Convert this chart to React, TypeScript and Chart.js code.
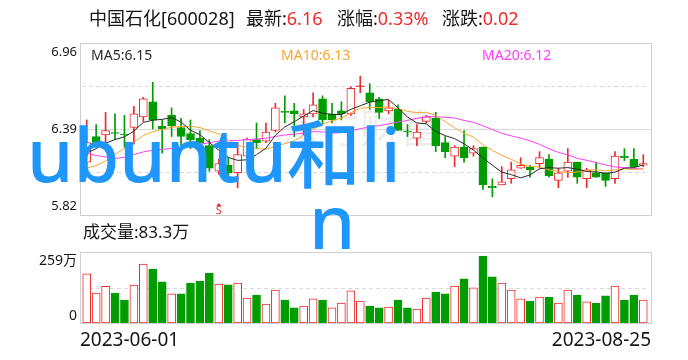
import { useEffect, useRef } from "react";
import { Chart, registerables } from "chart.js";

Chart.register(...registerables);

// ---- data -----------------------------------------------------------------

const stockName = "中国石化";
const stockCode = "600028";

const tradeDates = [
  "2023-06-01", "2023-06-02", "2023-06-05", "2023-06-06", "2023-06-07",
  "2023-06-08", "2023-06-09", "2023-06-12", "2023-06-13", "2023-06-14",
  "2023-06-15", "2023-06-16", "2023-06-19", "2023-06-20", "2023-06-21",
  "2023-06-26", "2023-06-27", "2023-06-28", "2023-06-29", "2023-06-30",
  "2023-07-03", "2023-07-04", "2023-07-05", "2023-07-06", "2023-07-07",
  "2023-07-10", "2023-07-11", "2023-07-12", "2023-07-13", "2023-07-14",
  "2023-07-17", "2023-07-18", "2023-07-19", "2023-07-20", "2023-07-21",
  "2023-07-24", "2023-07-25", "2023-07-26", "2023-07-27", "2023-07-28",
  "2023-07-31", "2023-08-01", "2023-08-02", "2023-08-03", "2023-08-04",
  "2023-08-07", "2023-08-08", "2023-08-09", "2023-08-10", "2023-08-11",
  "2023-08-14", "2023-08-15", "2023-08-16", "2023-08-17", "2023-08-18",
  "2023-08-21", "2023-08-22", "2023-08-23", "2023-08-24", "2023-08-25",
];

// closes of the 19 sessions before 2023-06-01, seeding the moving averages
const mayCloses = [
  6.60, 6.58, 6.55, 6.20, 6.12, 6.25, 6.24, 6.28, 6.25, 6.22,
  6.12, 6.08, 5.92, 5.96, 6.07, 6.15, 6.20, 6.24, 6.26,
];

const opens = [
  6.17, 6.34, 6.35, 6.36, 6.35, 6.40, 6.47, 6.57, 6.41, 6.48,
  6.40, 6.36, 6.33, 6.28, 6.11, 6.15, 6.10, 6.21, 6.32, 6.31,
  6.38, 6.50, 6.51, 6.47, 6.49, 6.59, 6.49, 6.51, 6.49, 6.67,
  6.63, 6.59, 6.51, 6.52, 6.37, 6.33, 6.44, 6.46, 6.30, 6.21,
  6.27, 6.23, 6.27, 6.01, 6.02, 6.06, 6.13, 6.14, 6.16, 6.19,
  6.05, 6.11, 6.17, 6.06, 6.10, 6.10, 6.06, 6.21, 6.19, 6.15,
];
const highs = [
  6.45, 6.42, 6.50, 6.49, 6.48, 6.54, 6.60, 6.70, 6.45, 6.53,
  6.46, 6.45, 6.38, 6.32, 6.19, 6.20, 6.30, 6.33, 6.43, 6.43,
  6.56, 6.61, 6.56, 6.52, 6.63, 6.61, 6.56, 6.57, 6.67, 6.74,
  6.69, 6.60, 6.58, 6.55, 6.42, 6.42, 6.48, 6.50, 6.34, 6.28,
  6.38, 6.28, 6.27, 6.06, 6.14, 6.17, 6.20, 6.15, 6.24, 6.22,
  6.13, 6.26, 6.17, 6.13, 6.17, 6.10, 6.24, 6.26, 6.26, 6.22,
];
const lows = [
  6.15, 6.27, 6.27, 6.32, 6.27, 6.29, 6.44, 6.39, 6.23, 6.34,
  6.28, 6.26, 6.28, 6.11, 6.09, 6.08, 6.00, 6.19, 6.26, 6.30,
  6.37, 6.43, 6.34, 6.35, 6.47, 6.42, 6.43, 6.45, 6.48, 6.63,
  6.52, 6.46, 6.49, 6.38, 6.34, 6.28, 6.43, 6.24, 6.20, 6.14,
  6.17, 6.21, 5.99, 5.94, 6.02, 6.03, 6.13, 6.07, 6.13, 6.07,
  6.00, 6.07, 6.03, 6.00, 6.07, 6.01, 6.03, 6.18, 6.14, 6.14,
];
const closes = [
  6.30, 6.30, 6.38, 6.36, 6.35, 6.49, 6.59, 6.45, 6.39, 6.41,
  6.34, 6.32, 6.30, 6.13, 6.16, 6.10, 6.22, 6.32, 6.30, 6.37,
  6.53, 6.50, 6.49, 6.49, 6.55, 6.45, 6.45, 6.49, 6.66, 6.67,
  6.57, 6.50, 6.53, 6.38, 6.37, 6.37, 6.47, 6.28, 6.24, 6.27,
  6.20, 6.26, 6.02, 6.00, 6.04, 6.12, 6.15, 6.12, 6.20, 6.08,
  6.10, 6.17, 6.07, 6.12, 6.07, 6.05, 6.21, 6.20, 6.14, 6.16,
];
// volume, 万股
const volumes = [
  179, 109, 134, 109, 84, 138, 215, 197, 150, 106,
  106, 146, 153, 182, 142, 139, 146, 91, 102, 69,
  120, 84, 55, 62, 88, 84, 55, 73, 117, 80,
  62, 55, 58, 84, 55, 51, 91, 113, 106, 135,
  161, 128, 244, 168, 146, 120, 88, 80, 95, 95,
  73, 120, 102, 77, 73, 99, 135, 84, 102, 83.3,
];

const priceTicks = [6.96, 6.39, 5.82];
const volumeTicks = [259, 0];
const maPeriods = [5, 10, 20];
const signalIndex = 14; // session carrying the "S" mark

// ---- look -----------------------------------------------------------------

const RISE = "#ee2a2a";
const FALL = "#009c00";
const TEXT = "#161616";
const FRAME = "#cfcfd4";
const GRID = "#d9d9d9";
const MA_COLORS = ["#2a2a2a", "#f7a531", "#ff3dff"];
const FONT = '"Noto Sans", "Noto Sans CJK SC", sans-serif';
const CJK = '"Noto Sans CJK SC", "Noto Sans", sans-serif';

const W = 688;
const H = 360;
const FRAME_LEFT = 80;
const FRAME_RIGHT = 651;
const PRICE_TOP = 43;
const PRICE_BOTTOM = 215;
const VOL_TOP = 252;
const VOL_BOTTOM = 323;

// ---- derived series ---------------------------------------------------------

const allCloses = [...mayCloses, ...closes];
const movingAverage = (n: number) =>
  closes.map((_, i) => {
    const end = i + mayCloses.length;
    let sum = 0;
    for (let k = end - n + 1; k <= end; k++) sum += allCloses[k];
    return sum / n;
  });
const maSeries = maPeriods.map(movingAverage);

const volumeUp = closes.map(
  (c, i) => c >= (i === 0 ? mayCloses[mayCloses.length - 1] : closes[i - 1])
);
const candleUp = closes.map((c, i) =>
  c === opens[i] ? volumeUp[i] : c > opens[i]
);
const candleColor = candleUp.map((u) => (u ? RISE : FALL));

const last = closes[closes.length - 1];
const prev = closes[closes.length - 2];
const change = last - prev;
const changePct = (change / prev) * 100;

// axis ranges stretched so each panel sits in its own band of one chart area
const areaH = VOL_BOTTOM - PRICE_TOP;
const priceHi = priceTicks[0];
const priceLo = priceTicks[priceTicks.length - 1];
const priceAxisMin =
  priceHi - ((priceHi - priceLo) * areaH) / (PRICE_BOTTOM - PRICE_TOP);
const volAxisMax = (volumeTicks[0] * areaH) / (VOL_BOTTOM - VOL_TOP);

// ---- drawing helpers --------------------------------------------------------

function hLine(ctx: CanvasRenderingContext2D, y: number, x0: number, x1: number, color: string, dash: number[] = []) {
  const yy = Math.round(y) + 0.5;
  ctx.save();
  ctx.strokeStyle = color;
  ctx.lineWidth = 1;
  ctx.setLineDash(dash);
  ctx.beginPath();
  ctx.moveTo(x0, yy);
  ctx.lineTo(x1, yy);
  ctx.stroke();
  ctx.restore();
}

function frameRect(ctx: CanvasRenderingContext2D, top: number, bottom: number) {
  ctx.save();
  ctx.strokeStyle = FRAME;
  ctx.lineWidth = 1;
  ctx.strokeRect(FRAME_LEFT + 0.5, Math.round(top) + 0.5, FRAME_RIGHT - FRAME_LEFT, Math.round(bottom) - Math.round(top));
  ctx.restore();
}

function textRun(ctx: CanvasRenderingContext2D, x: number, y: number, parts: [string, string][]) {
  let cx = x;
  for (const [t, color] of parts) {
    ctx.fillStyle = color;
    ctx.fillText(t, cx, y);
    cx += ctx.measureText(t).width;
  }
}

const panelsPlugin = {
  id: "panels",
  beforeDatasetsDraw(chart: any) {
    const ctx: CanvasRenderingContext2D = chart.ctx;
    const yP = chart.scales.yPrice;
    const yV = chart.scales.yVol;

    // faint brand mark behind the candles
    ctx.save();
    ctx.font = `40px ${CJK}`;
    ctx.fillStyle = "#eeeeee";
    ctx.textBaseline = "middle";
    ctx.textAlign = "left";
    ctx.fillText("东方财富", 280, 128);
    ctx.restore();

    const pTop = yP.getPixelForValue(priceHi);
    const pBot = yP.getPixelForValue(priceLo);
    const pMid = yP.getPixelForValue(priceTicks[1]);
    hLine(ctx, (pTop + pMid) / 2, FRAME_LEFT + 2, FRAME_RIGHT - 2, GRID, [4, 3]);
    hLine(ctx, (pMid + pBot) / 2, FRAME_LEFT + 2, FRAME_RIGHT - 2, GRID, [4, 3]);
    hLine(ctx, pMid, FRAME_LEFT, FRAME_RIGHT, GRID);
    frameRect(ctx, pTop, pBot);

    const vTop = yV.getPixelForValue(volumeTicks[0]);
    const vBot = yV.getPixelForValue(0);
    hLine(ctx, (vTop + vBot) / 2, FRAME_LEFT + 2, FRAME_RIGHT - 2, GRID, [4, 3]);
    frameRect(ctx, vTop, vBot);
  },
  afterDatasetsDraw(chart: any) {
    const ctx: CanvasRenderingContext2D = chart.ctx;
    const x = chart.scales.x.getPixelForValue(signalIndex);
    const base = chart.scales.yPrice.getPixelForValue(priceLo);
    ctx.save();
    ctx.fillStyle = RISE;
    ctx.beginPath();
    ctx.moveTo(x, base - 12);
    ctx.lineTo(x - 2.5, base - 9);
    ctx.lineTo(x + 2.5, base - 9);
    ctx.closePath();
    ctx.fill();
    ctx.font = `11px ${FONT}`;
    ctx.textAlign = "center";
    ctx.textBaseline = "alphabetic";
    ctx.fillText("S", x, base - 1);
    ctx.restore();
  },
  afterDraw(chart: any) {
    const ctx: CanvasRenderingContext2D = chart.ctx;
    const yP = chart.scales.yPrice;
    const yV = chart.scales.yVol;
    ctx.save();
    ctx.textBaseline = "middle";
    ctx.textAlign = "left";

    // title line
    ctx.font = `18px ${FONT}`;
    textRun(ctx, 89, 20, [[`${stockName}[${stockCode}]`, TEXT]]);
    textRun(ctx, 246, 20, [["最新:", TEXT], [last.toFixed(2), RISE]]);
    textRun(ctx, 337, 20, [["涨幅:", TEXT], [`${changePct.toFixed(2)}%`, RISE]]);
    textRun(ctx, 442, 20, [["涨跌:", TEXT], [change.toFixed(2), RISE]]);

    // moving-average legend
    ctx.font = `14px ${FONT}`;
    const legendX = [91, 281, 482];
    maPeriods.forEach((p, k) => {
      ctx.fillStyle = MA_COLORS[k];
      const v = maSeries[k][maSeries[k].length - 1];
      ctx.fillText(`MA${p}:${v.toFixed(2)}`, legendX[k], 56);
    });

    // price axis labels
    ctx.font = `13px ${FONT}`;
    ctx.textAlign = "right";
    ctx.fillStyle = TEXT;
    priceTicks.forEach((v, k) => {
      const y = yP.getPixelForValue(v);
      const dy = k === 0 ? 9 : k === priceTicks.length - 1 ? -9 : 0;
      ctx.fillText(v.toFixed(2), 77, y + dy);
    });

    // volume axis labels
    ctx.font = `14px ${FONT}`;
    volumeTicks.forEach((v, k) => {
      const y = yV.getPixelForValue(v);
      const dy = k === 0 ? 9 : -7;
      ctx.fillText(v === 0 ? "0" : `${v}万`, 77, y + dy);
    });

    // volume caption
    ctx.textAlign = "left";
    ctx.font = `17px ${FONT}`;
    ctx.fillText(`成交量:${volumes[volumes.length - 1]}万`, 83, 233);

    // date labels
    ctx.font = `19px ${FONT}`;
    ctx.fillText(tradeDates[0], FRAME_LEFT, 341);
    ctx.textAlign = "right";
    ctx.fillText(tradeDates[tradeDates.length - 1], FRAME_RIGHT, 341);

    // overlay caption
    ctx.textAlign = "left";
    ctx.textBaseline = "alphabetic";
    ctx.font = `500 74px ${FONT}`;
    ctx.fillStyle = "rgb(30,150,250)";
    ctx.fillText("ubuntu和li", 27, 182);
    ctx.fillText("n", 309, 249);
    ctx.restore();
  },
};

export default function App() {
  const ref = useRef<HTMLCanvasElement>(null);

  useEffect(() => {
    const canvas = ref.current;
    if (!canvas) return;
    const chart = new Chart(canvas, {
      type: "bar",
      data: {
        labels: tradeDates,
        datasets: [
          ...maSeries.map((s, k) => ({
            type: "line" as const,
            label: `MA${maPeriods[k]}`,
            data: s,
            yAxisID: "yPrice",
            borderColor: MA_COLORS[k],
            borderWidth: 1,
            pointRadius: 0,
            tension: 0,
            fill: false,
            order: 0,
          })),
          {
            type: "bar" as const,
            label: "body",
            data: opens.map((o, i) => [o, closes[i]]),
            yAxisID: "yPrice",
            backgroundColor: candleUp.map((u, i) =>
              opens[i] === closes[i] ? candleColor[i] : u ? "#ffffff" : FALL
            ),
            borderColor: candleColor,
            borderWidth: 1,
            borderSkipped: false,
            barThickness: 8,
            minBarLength: 1,
            grouped: false,
            order: 2,
          },
          {
            type: "bar" as const,
            label: "wick",
            data: lows.map((l, i) => [l, highs[i]]),
            yAxisID: "yPrice",
            backgroundColor: candleColor,
            borderWidth: 0,
            barThickness: 1,
            grouped: false,
            order: 3,
          },
          {
            type: "bar" as const,
            label: "volume",
            data: volumes,
            yAxisID: "yVol",
            backgroundColor: volumeUp.map((u) => (u ? "#ffffff" : FALL)),
            borderColor: volumeUp.map((u) => (u ? RISE : FALL)),
            borderWidth: 1,
            borderSkipped: false,
            barThickness: 8,
            grouped: false,
            order: 2,
          },
        ] as any,
      },
      options: {
        responsive: false,
        animation: false,
        devicePixelRatio: 1,
        events: [],
        layout: { padding: { left: 82, right: 40, top: PRICE_TOP, bottom: H - VOL_BOTTOM } },
        scales: {
          x: { type: "category", offset: true, display: false },
          yPrice: { type: "linear", display: false, min: priceAxisMin, max: priceHi },
          yVol: { type: "linear", display: false, min: 0, max: volAxisMax },
        },
        plugins: {
          legend: { display: false },
          tooltip: { enabled: false },
        },
      } as any,
      plugins: [panelsPlugin],
    });
    return () => chart.destroy();
  }, []);

  return (
    <div style={{ position: "fixed", left: 0, top: 0, width: W, height: H, background: "#ffffff" }}>
      <canvas ref={ref} width={W} height={H} style={{ display: "block", width: W, height: H }} />
    </div>
  );
}
